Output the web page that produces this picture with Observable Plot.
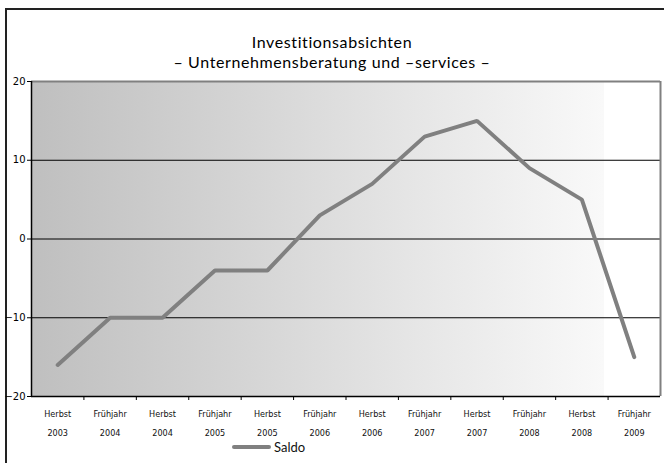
<!DOCTYPE html>
<html><head><meta charset="utf-8">
<script src="https://cdn.jsdelivr.net/npm/d3@7"></script>
<script src="https://cdn.jsdelivr.net/npm/@observablehq/plot@0.6"></script>
<style>
body{margin:0;background:#fff;overflow:hidden;}
#wrap{position:relative;width:664px;height:463px;overflow:hidden;}
#frame{position:absolute;left:5px;top:8px;width:700px;height:500px;border:2px solid #222;box-sizing:border-box;}
.title{position:absolute;left:0;width:664px;text-align:center;font-family:Lato,"Open Sans",sans-serif;font-size:16px;letter-spacing:0.6px;color:#000;line-height:1;}
#chart{position:absolute;left:0;top:0;}
#legend{position:absolute;top:439px;left:232px;display:flex;align-items:center;font-family:Lato,sans-serif;font-size:13px;color:#111;}
#legend .sw{width:39px;height:4px;background:#808080;border-radius:2px;margin-right:3px;}
</style></head>
<body>
<div id="wrap">
  <div id="frame"></div>
  <div id="chart"></div>
  <div class="title" style="top:34px">Investitionsabsichten</div>
  <div class="title" style="top:54px">– Unternehmensberatung und –services –</div>
  <div id="legend"><div class="sw"></div><span>Saldo</span></div>
</div>
<script>
const seasons = ["Herbst","Frühjahr","Herbst","Frühjahr","Herbst","Frühjahr","Herbst","Frühjahr","Herbst","Frühjahr","Herbst","Frühjahr"];
const years = ["2003","2004","2004","2005","2005","2006","2006","2007","2007","2008","2008","2009"];
const saldo = [-16,-10,-10,-4,-4,3,7,13,15,9,5,-15];
const yTicks = [-20,-10,0,10,20];
const gridValues = [-10,0,10];

const data = saldo.map((v,i)=>({pos:i+0.5, v}));
const labelOf = p => seasons[Math.floor(p)] + "\n" + years[Math.floor(p)];

const chart = Plot.plot({
  width:664, height:463,
  marginTop:81, marginBottom:67, marginLeft:31, marginRight:4,
  x:{domain:[0, saldo.length], axis:null, label:null},
  y:{domain:[-20,20], axis:null, label:null},
  style:{background:"transparent"},
  marks:[
    Plot.frame({fill:"url(#bg)", stroke:null}),
    Plot.ruleY(gridValues, {stroke:"#000", strokeWidth:1}),
    Plot.ruleY([20], {stroke:"#808080", strokeWidth:2}),
    Plot.ruleX([saldo.length], {stroke:"#808080", strokeWidth:2}),
    Plot.ruleX([0], {stroke:"#000", strokeWidth:1.5}),
    Plot.ruleY([-20], {stroke:"#000", strokeWidth:1.5}),
    Plot.axisY({ticks:yTicks, tickSize:4, tickPadding:2, fontSize:10, fontFamily:"DejaVu Sans", color:"#000", label:null}),
    Plot.axisX({ticks:d3.range(1, saldo.length), tickSize:4, tickFormat:()=>"", color:"#000", label:null}),
    Plot.axisX({ticks:data.map(d=>d.pos), tickSize:0, tickPadding:7, tickFormat:labelOf, lineHeight:2.1, label:null,
      fontSize:9, fontFamily:"'Liberation Sans Narrow','DejaVu Sans Condensed',sans-serif", color:"#111"}),
    Plot.line(data, {x:"pos", y:"v", stroke:"#808080", strokeWidth:4, strokeLinejoin:"miter"})
  ]
});
const ns = "http://www.w3.org/2000/svg";
const defs = document.createElementNS(ns,"defs");
defs.innerHTML = '<linearGradient id="bg" x1="0" x2="1" y1="0" y2="0">' +
  '<stop offset="0" stop-color="#bfbfbf"/><stop offset="0.91" stop-color="#f9f9f9"/>' +
  '<stop offset="0.91" stop-color="#ffffff"/><stop offset="1" stop-color="#ffffff"/></linearGradient>';
chart.insertBefore(defs, chart.firstChild);
document.getElementById("chart").appendChild(chart);
</script>
</body></html>
